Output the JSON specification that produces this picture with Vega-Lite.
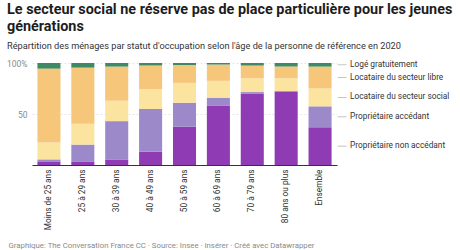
{
  "$schema": "https://vega.github.io/schema/vega-lite/v6.json",
  "autosize": "none",
  "width": 305,
  "height": 102,
  "padding": {"top": 63, "left": 32, "right": 123, "bottom": 85},
  "background": "white",
  "config": {
    "font": "Roboto",
    "view": {"stroke": null}
  },
  "title": {
    "text": ["Le secteur social ne réserve pas de place particulière pour les jeunes", "générations"],
    "subtitle": "Répartition des ménages par statut d'occupation selon l'âge de la personne de référence en 2020",
    "anchor": "start",
    "frame": "group",
    "dx": -25,
    "offset": 7,
    "font": "Roboto",
    "fontSize": 14.4,
    "fontWeight": "bold",
    "color": "#1d1d1d",
    "lineHeight": 17.5,
    "subtitleFont": "Roboto",
    "subtitleFontSize": 9.2,
    "subtitleColor": "#333333",
    "subtitlePadding": 7
  },
  "data": {
    "values": [
      {"age": "Moins de 25 ans", "statut": "Propriétaire non accédant", "k": 1, "pct": 3},
      {"age": "Moins de 25 ans", "statut": "Propriétaire accédant", "k": 2, "pct": 2.5},
      {"age": "Moins de 25 ans", "statut": "Locataire du secteur social", "k": 3, "pct": 16.5},
      {"age": "Moins de 25 ans", "statut": "Locataire du secteur libre", "k": 4, "pct": 72.5},
      {"age": "Moins de 25 ans", "statut": "Logé gratuitement", "k": 5, "pct": 5.5},
      {"age": "25 à 29 ans", "statut": "Propriétaire non accédant", "k": 1, "pct": 3.5},
      {"age": "25 à 29 ans", "statut": "Propriétaire accédant", "k": 2, "pct": 16.5},
      {"age": "25 à 29 ans", "statut": "Locataire du secteur social", "k": 3, "pct": 20.5},
      {"age": "25 à 29 ans", "statut": "Locataire du secteur libre", "k": 4, "pct": 55},
      {"age": "25 à 29 ans", "statut": "Logé gratuitement", "k": 5, "pct": 4.5},
      {"age": "30 à 39 ans", "statut": "Propriétaire non accédant", "k": 1, "pct": 5},
      {"age": "30 à 39 ans", "statut": "Propriétaire accédant", "k": 2, "pct": 38},
      {"age": "30 à 39 ans", "statut": "Locataire du secteur social", "k": 3, "pct": 20},
      {"age": "30 à 39 ans", "statut": "Locataire du secteur libre", "k": 4, "pct": 33.5},
      {"age": "30 à 39 ans", "statut": "Logé gratuitement", "k": 5, "pct": 3.5},
      {"age": "40 à 49 ans", "statut": "Propriétaire non accédant", "k": 1, "pct": 13},
      {"age": "40 à 49 ans", "statut": "Propriétaire accédant", "k": 2, "pct": 42},
      {"age": "40 à 49 ans", "statut": "Locataire du secteur social", "k": 3, "pct": 19.5},
      {"age": "40 à 49 ans", "statut": "Locataire du secteur libre", "k": 4, "pct": 23},
      {"age": "40 à 49 ans", "statut": "Logé gratuitement", "k": 5, "pct": 2.5},
      {"age": "50 à 59 ans", "statut": "Propriétaire non accédant", "k": 1, "pct": 37.5},
      {"age": "50 à 59 ans", "statut": "Propriétaire accédant", "k": 2, "pct": 23.5},
      {"age": "50 à 59 ans", "statut": "Locataire du secteur social", "k": 3, "pct": 19.5},
      {"age": "50 à 59 ans", "statut": "Locataire du secteur libre", "k": 4, "pct": 17.5},
      {"age": "50 à 59 ans", "statut": "Logé gratuitement", "k": 5, "pct": 2},
      {"age": "60 à 69 ans", "statut": "Propriétaire non accédant", "k": 1, "pct": 58},
      {"age": "60 à 69 ans", "statut": "Propriétaire accédant", "k": 2, "pct": 8},
      {"age": "60 à 69 ans", "statut": "Locataire du secteur social", "k": 3, "pct": 16.5},
      {"age": "60 à 69 ans", "statut": "Locataire du secteur libre", "k": 4, "pct": 16},
      {"age": "60 à 69 ans", "statut": "Logé gratuitement", "k": 5, "pct": 1.5},
      {"age": "70 à 79 ans", "statut": "Propriétaire non accédant", "k": 1, "pct": 70},
      {"age": "70 à 79 ans", "statut": "Propriétaire accédant", "k": 2, "pct": 1.5},
      {"age": "70 à 79 ans", "statut": "Locataire du secteur social", "k": 3, "pct": 13.5},
      {"age": "70 à 79 ans", "statut": "Locataire du secteur libre", "k": 4, "pct": 12.5},
      {"age": "70 à 79 ans", "statut": "Logé gratuitement", "k": 5, "pct": 2.5},
      {"age": "80 ans ou plus", "statut": "Propriétaire non accédant", "k": 1, "pct": 72},
      {"age": "80 ans ou plus", "statut": "Propriétaire accédant", "k": 2, "pct": 0.5},
      {"age": "80 ans ou plus", "statut": "Locataire du secteur social", "k": 3, "pct": 12.5},
      {"age": "80 ans ou plus", "statut": "Locataire du secteur libre", "k": 4, "pct": 11.5},
      {"age": "80 ans ou plus", "statut": "Logé gratuitement", "k": 5, "pct": 3.5},
      {"age": "Ensemble", "statut": "Propriétaire non accédant", "k": 1, "pct": 37},
      {"age": "Ensemble", "statut": "Propriétaire accédant", "k": 2, "pct": 20.5},
      {"age": "Ensemble", "statut": "Locataire du secteur social", "k": 3, "pct": 17.5},
      {"age": "Ensemble", "statut": "Locataire du secteur libre", "k": 4, "pct": 21.5},
      {"age": "Ensemble", "statut": "Logé gratuitement", "k": 5, "pct": 3.5}
    ]
  },
  "encoding": {
    "x": {
      "field": "age",
      "type": "nominal",
      "scale": {
        "domain": ["Moins de 25 ans", "25 à 29 ans", "30 à 39 ans", "40 à 49 ans", "50 à 59 ans", "60 à 69 ans", "70 à 79 ans", "80 ans ou plus", "Ensemble"],
        "paddingInner": 0.32,
        "paddingOuter": 0.16
      },
      "axis": {
        "labelAngle": -90,
        "labelAlign": "right",
        "labelBaseline": "middle",
        "labelFontSize": 8.3,
        "labelColor": "#333333",
        "labelPadding": 4,
        "ticks": false,
        "domainColor": "#333333",
        "domainWidth": 1,
        "title": "Graphique: The Conversation France CC · Source: Insee · Insérer · Créé avec Datawrapper",
        "titleAnchor": "start",
        "titleAlign": "left",
        "titleX": -24,
        "titleY": 82,
        "titleBaseline": "alphabetic",
        "titleFontSize": 7.8,
        "titleFontWeight": "normal",
        "titleColor": "#8a8a8a"
      }
    }
  },
  "layer": [
    {
      "mark": {"type": "bar"},
      "encoding": {
        "y": {
          "field": "pct",
          "type": "quantitative",
          "stack": "zero",
          "scale": {"domain": [0, 100], "nice": false},
          "axis": {
            "values": [0, 50, 100],
            "labelExpr": "datum.value == 100 ? '100%' : (datum.value == 0 ? '' : datum.label)",
            "labelFontSize": 8.5,
            "labelColor": "#8a8a8a",
            "labelPadding": 5,
            "ticks": false,
            "domain": false,
            "grid": true,
            "gridColor": "#e6e6e6",
            "gridDash": [2, 2],
            "title": null
          }
        },
        "order": {"field": "k", "type": "quantitative", "sort": "ascending"},
        "color": {
          "field": "statut",
          "type": "nominal",
          "scale": {
            "domain": ["Propriétaire non accédant", "Propriétaire accédant", "Locataire du secteur social", "Locataire du secteur libre", "Logé gratuitement"],
            "range": ["#8f3bb3", "#9b89c9", "#fbe3a0", "#f6c67a", "#3f8a64"]
          },
          "legend": null
        }
      }
    },
    {
      "transform": [
        {"filter": "datum.age === 'Ensemble'"},
        {"stack": "pct", "groupby": ["age"], "sort": [{"field": "k", "order": "ascending"}], "as": ["y0", "y1"]},
        {"fold": ["y0", "y1"], "as": ["bord", "yv"]},
        {"aggregate": [{"op": "mean", "field": "yv", "as": "ymid"}], "groupby": ["age", "statut"]}
      ],
      "mark": {"type": "tick", "size": 9, "thickness": 0.8, "xOffset": 22, "color": "#999999", "orient": "horizontal"},
      "encoding": {
        "y": {"field": "ymid", "type": "quantitative", "title": null}
      }
    },
    {
      "transform": [
        {"filter": "datum.age === 'Ensemble'"},
        {"stack": "pct", "groupby": ["age"], "sort": [{"field": "k", "order": "ascending"}], "as": ["y0", "y1"]},
        {"fold": ["y0", "y1"], "as": ["bord", "yv"]},
        {"aggregate": [{"op": "mean", "field": "yv", "as": "ymid"}], "groupby": ["age", "statut"]}
      ],
      "mark": {"type": "text", "align": "left", "baseline": "middle", "dx": 30, "fontSize": 8.3, "color": "#333333"},
      "encoding": {
        "y": {"field": "ymid", "type": "quantitative", "title": null},
        "text": {"field": "statut", "type": "nominal"}
      }
    }
  ]
}
